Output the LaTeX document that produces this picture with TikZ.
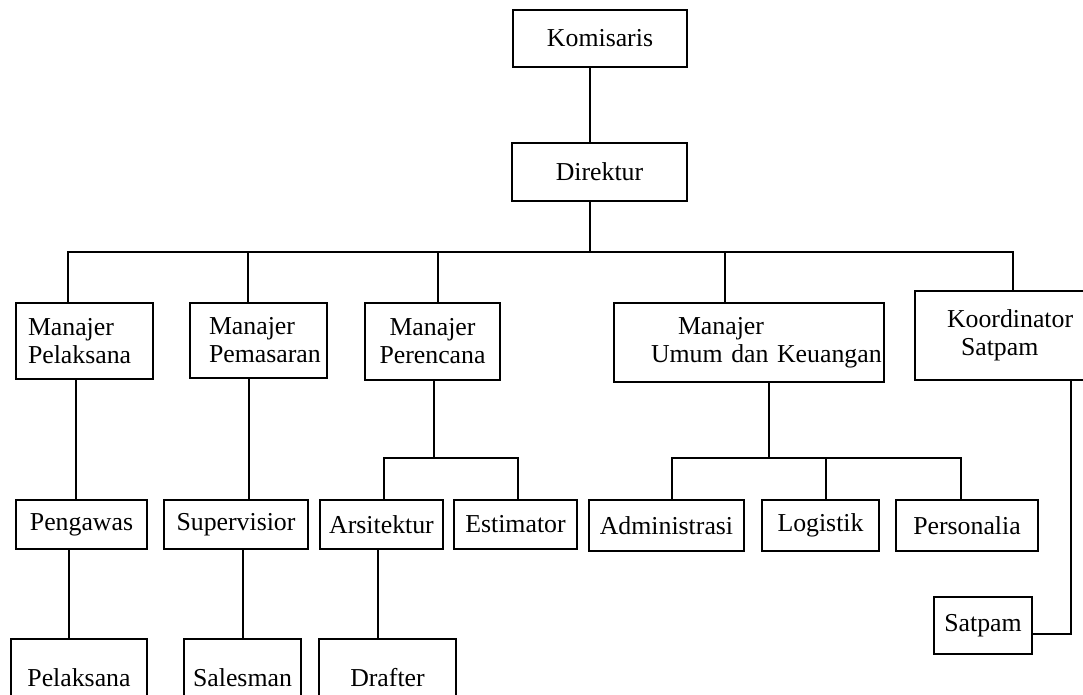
\documentclass[tikz,border=0pt]{standalone}
\usepackage{fontspec}
\setmainfont{Liberation Serif}
\begin{document}
\begin{tikzpicture}[x=1pt,y=-1pt,
  kotak/.style={draw,line width=2.6pt,inner sep=0pt,align=center,font=\fontsize{25.8}{28}\selectfont},
  garis/.style={line width=2.6pt}]
\path[use as bounding box] (0,0) rectangle (1083,695);
\clip (0,0) rectangle (1083,695);
\node[kotak,minimum width=174,minimum height=57] (kom) at (600,38.5) {Komisaris};
\node[kotak,minimum width=175,minimum height=58] (dir) at (599.5,172) {Direktur};
\node[kotak,minimum width=137,minimum height=76,text width=113,align=left] (mpel) at (84.5,341) {Manajer\\Pelaksana};
\node[kotak,minimum width=137,minimum height=75,text width=99,align=left] (mpem) at (258.5,340.5) {Manajer\\Pemasaran};
\node[kotak,minimum width=135,minimum height=77] (mper) at (432.5,341.5) {Manajer\\Perencana};
\node[kotak,minimum width=270,minimum height=79,text width=196,align=left] (mum) at (749,342.5) {\hspace*{27pt}Manajer\\\mbox{Umum dan Keuangan}};
\node[kotak,minimum width=194,minimum height=89,text width=130,align=left] (mko) at (1012,335.5) {Koordinator\\\hspace*{14pt}Satpam};
\node[kotak,minimum width=131,minimum height=49] (peng) at (81.5,524.5) {Pengawas};
\node[kotak,minimum width=144,minimum height=49] (sup) at (236,524.5) {Supervisior};
\node[kotak,minimum width=123,minimum height=49] (ars) at (381.5,524.5) {Arsitektur};
\node[kotak,minimum width=123,minimum height=49] (est) at (515.5,524.5) {Estimator};
\node[kotak,minimum width=155,minimum height=51] (adm) at (666.5,525.5) {Administrasi};
\node[kotak,minimum width=117,minimum height=51] (log) at (820.5,525.5) {Logistik};
\node[kotak,minimum width=142,minimum height=51] (pers) at (967,525.5) {Personalia};
\node[kotak,minimum width=98,minimum height=57] (sat) at (983,625.5) {Satpam};
\node[kotak,minimum width=136,minimum height=78] (pel) at (79,678) {Pelaksana};
\node[kotak,minimum width=117,minimum height=78] (sal) at (242.5,678) {Salesman};
\node[kotak,minimum width=137,minimum height=78] (dra) at (387.5,678) {Drafter};
% garis penghubung
\coordinate (bus) at (590,252);
\coordinate (jper) at (434,458);
\coordinate (jum) at (769,458);
\draw[garis] (kom.south -| 590,0) -- (dir.north -| 590,0);
\draw[garis] (dir.south -| bus) -- (bus);
\draw[garis] (mpel.north -| 68,0) |- (bus);
\draw[garis] (mpem.north -| 248,0) |- (bus);
\draw[garis] (mper.north -| 438,0) |- (bus);
\draw[garis] (mum.north -| 725,0) |- (bus);
\draw[garis] (mko.north -| 1013,0) |- (bus);
\draw[garis] (mpel.south -| 76,0) -- (peng.north -| 76,0);
\draw[garis] (peng.south -| 69,0) -- (pel.north -| 69,0);
\draw[garis] (mpem.south -| 249,0) -- (sup.north -| 249,0);
\draw[garis] (sup.south -| 243,0) -- (sal.north -| 243,0);
\draw[garis] (mper.south -| jper) -- (jper);
\draw[garis] (ars.north -| 384,0) |- (jper) -| (est.north -| 518,0);
\draw[garis] (ars.south -| 378,0) -- (dra.north -| 378,0);
\draw[garis] (mum.south -| jum) -- (jum);
\draw[garis] (adm.north -| 672,0) |- (jum) -| (pers.north -| 961,0);
\draw[garis] (log.north -| 826,0) |- (jum);
\draw[garis] (sat.east |- 0,634) -| (mko.south -| 1071,0);
\end{tikzpicture}
\end{document}
